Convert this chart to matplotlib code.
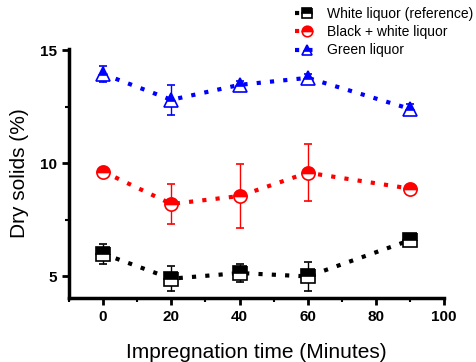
import matplotlib
matplotlib.use("Agg")
import matplotlib.pyplot as plt
from matplotlib.ticker import MultipleLocator
from matplotlib.lines import Line2D

plt.rcParams['font.family'] = ['Liberation Sans', 'DejaVu Sans']

time = [0, 20, 40, 60, 90]
white = [6.0, 4.9, 5.15, 5.0, 6.6]
white_err = [0.45, 0.55, 0.4, 0.65, 0.1]
black_white = [9.63, 8.2, 8.55, 9.58, 8.88]
black_white_err = [0.1, 0.9, 1.4, 1.25, 0.1]
green = [13.94, 12.8, 13.46, 13.77, 12.4]
green_err = [0.35, 0.65, 0.15, 0.15, 0.2]

labels = ['White liquor (reference)', 'Black + white liquor', 'Green liquor']
colors = ['black', 'red', 'blue']
markers = ['s', 'o', '^']

fig = plt.figure(figsize=(4.76, 3.62), dpi=100)
ax = fig.add_axes([0.145, 0.177, 0.788, 0.688])

handles = []
for y, e, c, m, lab in zip([white, black_white, green],
                           [white_err, black_white_err, green_err],
                           colors, markers, labels):
    style = dict(color=c, linestyle=(0, (1, 2.2)), linewidth=3,
                 marker=m, markersize=9.5, fillstyle='top',
                 markerfacecoloralt='white', markeredgecolor=c,
                 markerfacecolor=c, markeredgewidth=1.2)
    ax.errorbar(time, y, yerr=e, ecolor=c, elinewidth=1, capsize=3,
                capthick=1, **style)
    handles.append(Line2D([], [], label=lab, **style))

ax.set_xlim(-10, 100)
ax.set_ylim(4.05, 15.05)
ax.xaxis.set_major_locator(MultipleLocator(20))
ax.xaxis.set_minor_locator(MultipleLocator(10))
ax.yaxis.set_major_locator(MultipleLocator(5))
ax.yaxis.set_minor_locator(MultipleLocator(2.5))
for s in ['top', 'right']:
    ax.spines[s].set_visible(False)
for s in ['left', 'bottom']:
    ax.spines[s].set_linewidth(2.5)
ax.tick_params(which='major', length=5, width=2, direction='out', labelsize=11)
ax.tick_params(which='minor', length=3, width=1.5, direction='out')
for t in ax.get_xticklabels() + ax.get_yticklabels():
    t.set_fontweight('bold')

ax.set_xlabel('Impregnation time (Minutes)', fontsize=15, labelpad=14)
ax.set_ylabel('Dry solids (%)', fontsize=15, labelpad=8)

fig.legend(handles=handles, loc='upper right', bbox_to_anchor=(1.02, 1.015),
           frameon=False, fontsize=10, handlelength=1.8, handletextpad=0.5,
           labelspacing=0.3, markerscale=0.8)

fig.savefig('out.png', dpi=100)
